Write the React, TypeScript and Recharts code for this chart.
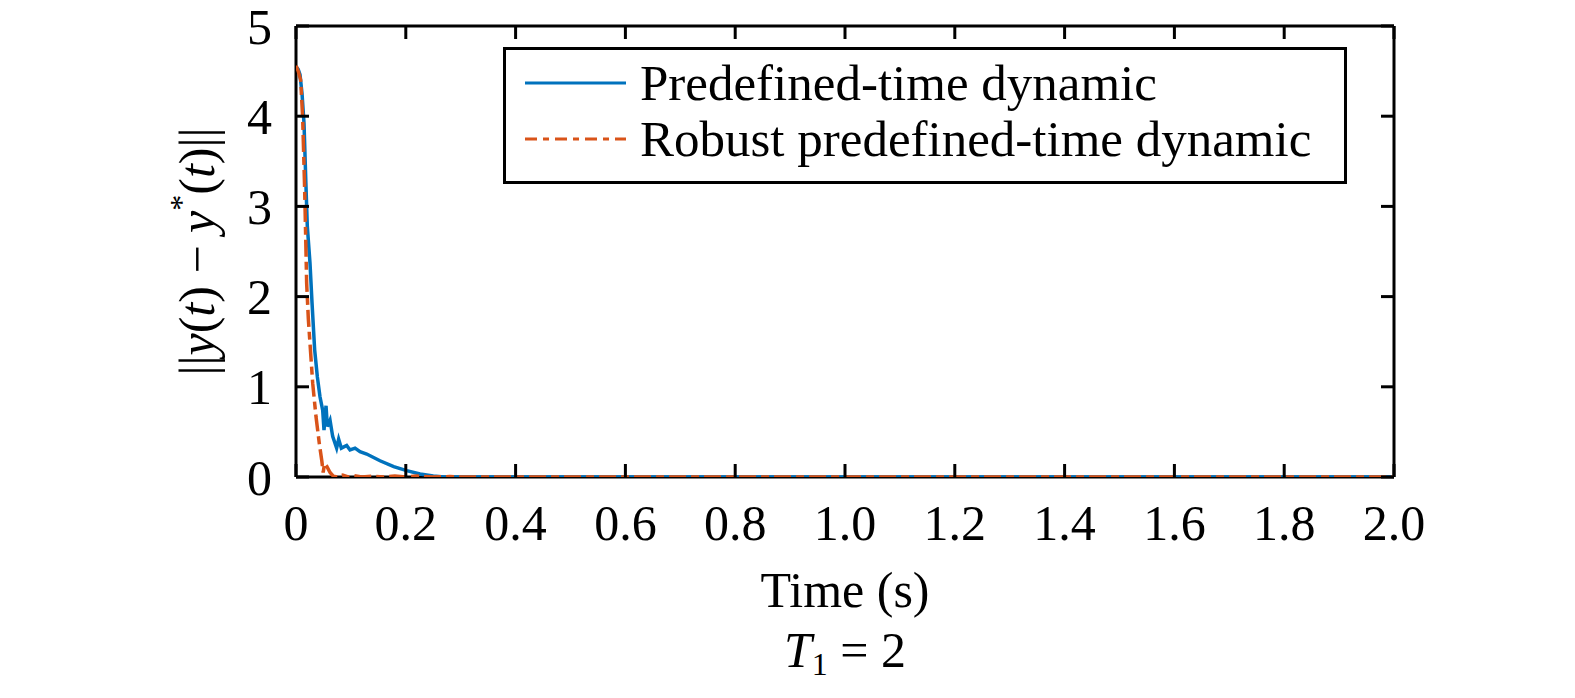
import React from "react";
import { LineChart, Line, XAxis, YAxis, Legend } from "recharts";

// values
const timeBlue = [0, 0.004, 0.0073, 0.011, 0.0146, 0.018, 0.0206, 0.0255, 0.0292, 0.034, 0.0389, 0.0437, 0.0486, 0.051, 0.0547, 0.0571, 0.062, 0.0668, 0.074, 0.0777, 0.0826, 0.0923, 0.0984, 0.1075, 0.1166, 0.1288, 0.153, 0.178, 0.2015, 0.226, 0.25, 0.27, 2.0];
const errBlue = [4.55, 4.52, 4.46, 4.25, 3.92, 3.26, 2.78, 2.37, 1.93, 1.41, 1.11, 0.89, 0.74, 0.52, 0.79, 0.56, 0.63, 0.45, 0.32, 0.42, 0.32, 0.35, 0.3, 0.32, 0.28, 0.255, 0.18, 0.115, 0.07, 0.033, 0.01, 0, 0];

const timeRed = [0, 0.004, 0.0085, 0.0121, 0.0158, 0.0194, 0.0225, 0.0255, 0.0304, 0.0364, 0.0425, 0.047, 0.0495, 0.052, 0.056, 0.062, 0.068, 0.075, 0.085, 0.095, 0.105, 0.12, 0.14, 0.16, 0.18, 0.2, 0.22, 0.25, 0.28, 0.3, 2.0];
const errRed = [4.56, 4.5, 4.4, 3.99, 3.18, 2.15, 1.75, 1.48, 1.04, 0.67, 0.37, 0.18, 0.05, 0.15, 0.12, 0.05, 0.01, 0, 0.02, 0, 0.015, 0, 0.01, 0, 0.01, 0, 0.01, 0, 0.005, 0, 0];

const xTicks = [0, 0.2, 0.4, 0.6, 0.8, 1.0, 1.2, 1.4, 1.6, 1.8, 2.0];
const yTicks = [0, 1, 2, 3, 4, 5];

const seriesNames = ["Predefined-time dynamic", "Robust predefined-time dynamic"];
const BLUE = "#0072BD";
const ORANGE = "#D95319";
const DASH = "17 5 8 5";

const blueData = timeBlue.map((t, i) => ({ t, v: errBlue[i] }));
const redData = timeRed.map((t, i) => ({ t, v: errRed[i] }));

const FONT = "'Liberation Serif', 'Times New Roman', serif";
const W = 1575;
const H = 698;
const PLOT_L = 296;
const PLOT_R = 1394;
const PLOT_T = 26;
const PLOT_B = 477;
const TICK = 13;

const BottomTick = (p: any) => {
  const v = p.payload.value;
  return (
    <g>
      <line x1={p.x} x2={p.x} y1={p.y} y2={p.y - TICK} stroke="#000" strokeWidth={3} />
      <text x={p.x} y={p.y + 63} textAnchor="middle" fontSize={50} fontFamily={FONT} fill="#000">
        {v === 0 ? "0" : v.toFixed(1)}
      </text>
    </g>
  );
};

const TopTick = (p: any) => (
  <line x1={p.x} x2={p.x} y1={PLOT_T} y2={PLOT_T + TICK} stroke="#000" strokeWidth={3} />
);

const LeftTick = (p: any) => (
  <g>
    <line x1={p.x} x2={p.x + TICK} y1={p.y} y2={p.y} stroke="#000" strokeWidth={3} />
    <text x={p.x - 24} y={p.y} dy="0.35em" textAnchor="end" fontSize={50} fontFamily={FONT} fill="#000">
      {p.payload.value}
    </text>
  </g>
);

const RightTick = (p: any) => (
  <line x1={PLOT_R} x2={PLOT_R - TICK} y1={p.y} y2={p.y} stroke="#000" strokeWidth={3} />
);

const XLabel = () => {
  const cx = (PLOT_L + PLOT_R) / 2;
  return (
    <g fontFamily={FONT} fill="#000">
      <text x={cx} y={607} textAnchor="middle" fontSize={50}>Time (s)</text>
      <text x={cx} y={667} textAnchor="middle" fontSize={50}>
        <tspan fontStyle="italic">T</tspan>
        <tspan fontSize={32} dy={8}>1</tspan>
        <tspan dy={-8}> = 2</tspan>
      </text>
    </g>
  );
};

const YLabel = () => {
  const cx = 197;
  const cy = (PLOT_T + PLOT_B) / 2;
  return (
    <text
      x={cx}
      y={cy}
      transform={`rotate(-90, ${cx}, ${cy})`}
      textAnchor="middle"
      dominantBaseline="central"
      fontSize={50}
      fontFamily={FONT}
      fill="#000"
    >
      ||<tspan fontStyle="italic">y</tspan>(<tspan fontStyle="italic">t</tspan>) − <tspan fontStyle="italic">y</tspan>
      <tspan fontSize={32} dy={-16}>*</tspan>
      <tspan dy={16}>(</tspan><tspan fontStyle="italic">t</tspan>)||
    </text>
  );
};

const LegendBox = () => (
  <div
    style={{
      boxSizing: "border-box",
      width: 844,
      height: 137,
      border: "3px solid #000",
      background: "#fff",
      fontFamily: FONT,
      fontSize: 51,
      color: "#000",
      paddingTop: 5,
    }}
  >
    {seriesNames.map((name, i) => (
      <div key={name} style={{ display: "flex", alignItems: "center", height: 56, lineHeight: "56px" }}>
        <svg width={134} height={20} style={{ flex: "none" }}>
          <line
            x1={19}
            x2={120}
            y1={10}
            y2={10}
            stroke={i === 0 ? BLUE : ORANGE}
            strokeWidth={3}
            strokeDasharray={i === 0 ? undefined : "12 6 6 6"}
          />
        </svg>
        <span style={{ whiteSpace: "nowrap" }}>{name}</span>
      </div>
    ))}
  </div>
);

export default function App() {
  return (
    <div style={{ position: "absolute", left: 0, top: 0, width: W, height: H, background: "#fff" }}>
      <LineChart
        width={W}
        height={H}
        data={blueData}
        margin={{ top: PLOT_T - 2, left: PLOT_L - 100, right: W - PLOT_R - 2, bottom: H - PLOT_B - 60 }}
      >
        <XAxis
          xAxisId="b"
          dataKey="t"
          type="number"
          domain={[0, 2]}
          ticks={xTicks}
          allowDataOverflow
          height={60}
          tickSize={0}
          tickMargin={0}
          tickLine={false}
          axisLine={{ stroke: "#000", strokeWidth: 3 }}
          tick={<BottomTick />}
          label={<XLabel />}
          interval={0}
        />
        <XAxis
          xAxisId="top"
          orientation="top"
          dataKey="t"
          type="number"
          domain={[0, 2]}
          ticks={xTicks}
          allowDataOverflow
          height={2}
          tickSize={0}
          tickMargin={0}
          tickLine={false}
          axisLine={{ stroke: "#000", strokeWidth: 3 }}
          tick={<TopTick />}
          interval={0}
        />
        <YAxis
          yAxisId="l"
          dataKey="v"
          type="number"
          domain={[0, 5]}
          ticks={yTicks}
          allowDataOverflow
          width={100}
          tickSize={0}
          tickMargin={0}
          tickLine={false}
          axisLine={{ stroke: "#000", strokeWidth: 3 }}
          tick={<LeftTick />}
          label={<YLabel />}
          interval={0}
        />
        <YAxis
          yAxisId="r"
          dataKey="v"
          orientation="right"
          type="number"
          domain={[0, 5]}
          ticks={yTicks}
          allowDataOverflow
          width={2}
          tickSize={0}
          tickMargin={0}
          tickLine={false}
          axisLine={{ stroke: "#000", strokeWidth: 3 }}
          tick={<RightTick />}
          interval={0}
        />
        <Line
          xAxisId="b"
          yAxisId="l"
          data={blueData}
          dataKey="v"
          name={seriesNames[0]}
          type="linear"
          stroke={BLUE}
          strokeWidth={3.5}
          dot={false}
          isAnimationActive={false}
          zIndex={600}
        />
        <Line
          xAxisId="b"
          yAxisId="l"
          data={redData}
          dataKey="v"
          name={seriesNames[1]}
          type="linear"
          stroke={ORANGE}
          strokeWidth={3.5}
          strokeDasharray={DASH}
          dot={false}
          isAnimationActive={false}
          zIndex={601}
        />
        <Legend
          layout="vertical"
          align="center"
          verticalAlign="middle"
          content={<LegendBox />}
          wrapperStyle={{ left: 503, top: 47, width: 844, height: 137 }}
        />
      </LineChart>
    </div>
  );
}
